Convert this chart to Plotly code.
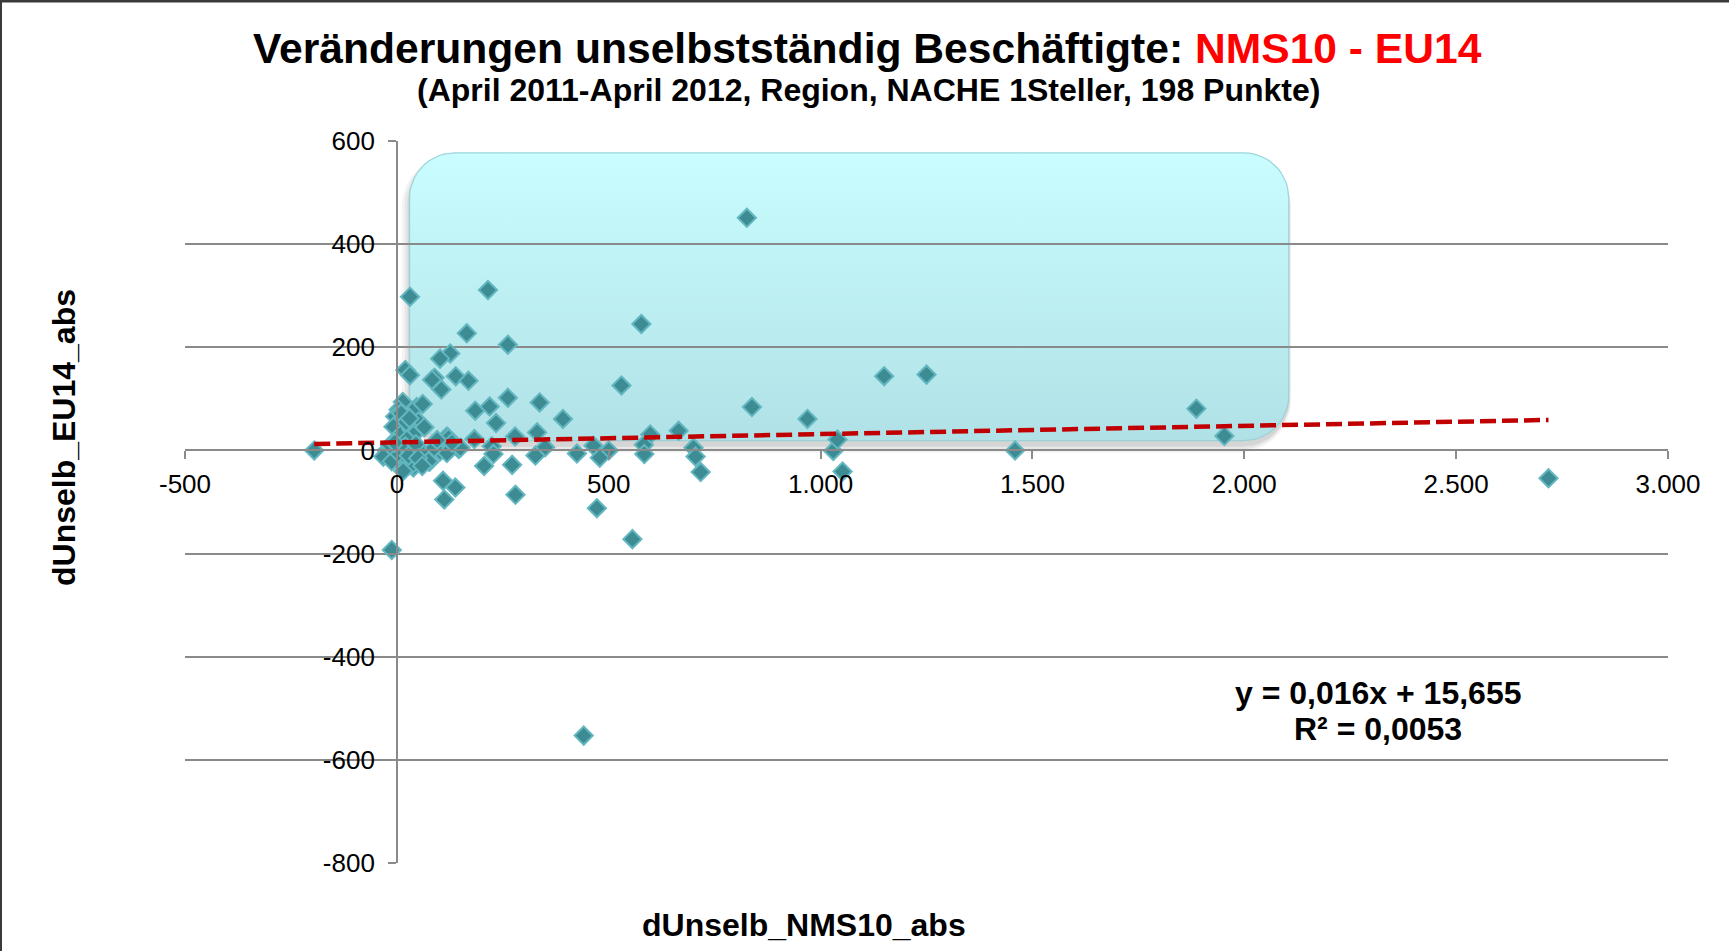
import numpy as np
import plotly.graph_objects as go

# ---------------- data ----------------
NMS10_ABS = [
    31, 215, 165, 262, 577, 826, 126, 102, 20, 31, 89, 83, 139, 169, 105,
    530, 262, 337, 185, 219, 47, 61, 14, 4, -4, 10, 392, 234, 51, -8, 8,
    35, 39, 24, 118, 122, 183, 279, 331, 598, 665, 583, 350, 146, 224, 79,
    59, 102, 118, 327, 425, 464, 500, 479, 584, 700, 705, 717, 228, 206,
    272, 77, 39, 12, 35, -24, -32, -12, 4, 75, 150, 109, 138, 112, 280,
    472, 556, 441, -12, -195, 838, 969, 1150, 1250, 1887, 1953, 1459,
    1030, 1040, 1052, 2718,
    -16, 20, 28, -5, 45, 50, 15, 60, 88, 130, 95, 22, 30, 65,
]
EU14_ABS = [
    298, 311, 227, 205, 245, 451, 188, 178, 156, 146, 141, 137, 144, 135, 118,
    126, 102, 93, 77, 85, 84, 90, 94, 79, 66, 72, 61, 53, 56, 46, 30,
    40, 30, 21, 27, 24, 22, 27, 35, 31, 38, 11, 6, 3, 8, -2,
    -2, -2, -5, -10, -6, 9, 0, -14, -7, 5, -12, -42, -7, -30,
    -28, -22, -33, -27, -28, 0, -12, -21, -5, -21, 5, -59, -72, -95, -86,
    -112, -172, -553, -193, 0, 84, 61, 144, 147, 81, 28, 0,
    -1, 21, -41, -54,
    10, 8, -10, 15, 12, -15, -40, -30, 5, 15, 20, 55, 62, 45,
]

TREND_SLOPE = 0.016
TREND_INTERCEPT = 15.655
EQUATION_TEXT = "y = 0,016x + 15,655"
R2_TEXT = "R² = 0,0053"

X_RANGE = [-500, 3000]
Y_RANGE = [-800, 600]
X_TICK_VALS = [-500, 0, 500, 1000, 1500, 2000, 2500, 3000]
X_TICK_TEXT = ["-500", "0", "500", "1.000", "1.500", "2.000", "2.500", "3.000"]
Y_TICK_VALS = [-800, -600, -400, -200, 0, 200, 400, 600]
Y_TICK_TEXT = ["-800", "-600", "-400", "-200", "0", "200", "400", "600"]

# highlighted area (rounded box behind the points)
HIGHLIGHT_X = [30, 2105]
HIGHLIGHT_Y = [19, 577]

# ---------------- geometry / styling ----------------
W, H = 1729, 951
ML, MR, MT, MB = 185, 61, 141, 88
PW, PH = W - ML - MR, H - MT - MB
PX_PER_X = PW / (X_RANGE[1] - X_RANGE[0])
PX_PER_Y = PH / (Y_RANGE[1] - Y_RANGE[0])
FONT = "Arial, 'Liberation Sans', Helvetica, sans-serif"


def rounded_rect(x0, x1, y0, y1, r_px, n=14):
    rx, ry = r_px / PX_PER_X, r_px / PX_PER_Y
    xs, ys = [], []
    corners = [
        (x1 - rx, y1 - ry, 0.0),          # top-right
        (x0 + rx, y1 - ry, np.pi / 2),    # top-left
        (x0 + rx, y0 + ry, np.pi),        # bottom-left
        (x1 - rx, y0 + ry, 1.5 * np.pi),  # bottom-right
    ]
    for cx, cy, a0 in corners:
        t = np.linspace(a0, a0 + np.pi / 2, n)
        xs.extend(cx + rx * np.cos(t))
        ys.extend(cy + ry * np.sin(t))
    xs.append(xs[0])
    ys.append(ys[0])
    return xs, ys


def px_to_paper_x(px):
    return (px - ML) / PW


def px_to_paper_y(py):
    return (H - MB - py) / PH


fig = go.Figure()

# shadow of the highlight box (subplot 1, below the grid)
for grow, alpha in [(8, 0.05), (5, 0.07), (2, 0.10)]:
    dx, dy = grow / PX_PER_X, grow / PX_PER_Y
    off = 4 / PX_PER_Y
    sx, sy = rounded_rect(HIGHLIGHT_X[0] - dx, HIGHLIGHT_X[1] + dx * 0.3,
                          HIGHLIGHT_Y[0] - dy - off, HIGHLIGHT_Y[1] + dy * 0.3 - off,
                          45 + grow)
    fig.add_trace(go.Scatter(x=sx, y=sy, mode="lines", fill="toself",
                             line=dict(width=0, color="rgba(0,0,0,0)"),
                             fillcolor=f"rgba(60,60,60,{alpha})",
                             hoverinfo="skip", showlegend=False,
                             xaxis="x", yaxis="y"))

hx, hy = rounded_rect(HIGHLIGHT_X[0], HIGHLIGHT_X[1], HIGHLIGHT_Y[0], HIGHLIGHT_Y[1], 45)
fig.add_trace(go.Scatter(
    x=hx, y=hy, mode="lines", fill="toself",
    line=dict(width=1.2, color="rgba(150,208,214,0.9)"),
    fillgradient=dict(type="vertical",
                      colorscale=[[0, "#B0E1E6"], [1, "#C9FDFF"]]),
    hoverinfo="skip", showlegend=False, xaxis="x", yaxis="y"))

# scatter points (subplot 2, drawn above the grid)
fig.add_trace(go.Scatter(
    x=NMS10_ABS, y=EU14_ABS, mode="markers",
    marker=dict(symbol="diamond", size=14, color="#3E8C93",
                line=dict(color="#63B7C0", width=2)),
    showlegend=False, xaxis="x2", yaxis="y2"))

# linear trend line
tx = np.array([min(NMS10_ABS), max(NMS10_ABS)], dtype=float)
ty = TREND_SLOPE * tx + TREND_INTERCEPT
fig.add_trace(go.Scatter(
    x=tx, y=ty, mode="lines",
    line=dict(color="#C00000", width=4.5, dash="16px,6px"),
    showlegend=False, hoverinfo="skip", xaxis="x2", yaxis="y2"))

GRID = "#8A8A8A"
fig.update_layout(
    width=W, height=H, autosize=False,
    margin=dict(l=ML, r=MR, t=MT, b=MB, pad=0),
    paper_bgcolor="white", plot_bgcolor="rgba(0,0,0,0)",
    font=dict(family=FONT, color="black"),
    xaxis=dict(domain=[0, 1], range=X_RANGE, visible=False, fixedrange=True),
    yaxis=dict(domain=[0, 1], range=Y_RANGE, visible=False, fixedrange=True),
    xaxis2=dict(domain=[0, 1], range=X_RANGE, anchor="free",
                position=(0 - Y_RANGE[0]) / (Y_RANGE[1] - Y_RANGE[0]),
                tickmode="array", tickvals=X_TICK_VALS, ticktext=X_TICK_TEXT,
                showgrid=False, zeroline=False,
                showline=True, linecolor=GRID, linewidth=1.5,
                ticks="outside", ticklen=8, tickwidth=1.5, tickcolor=GRID,
                ticklabelstandoff=3,
                tickfont=dict(size=26, family=FONT, color="black")),
    yaxis2=dict(domain=[0, 1], range=Y_RANGE, anchor="free",
                position=(0 - X_RANGE[0]) / (X_RANGE[1] - X_RANGE[0]),
                tickmode="array", tickvals=Y_TICK_VALS, ticktext=Y_TICK_TEXT,
                showgrid=True, gridcolor=GRID, gridwidth=1.5, zeroline=False,
                showline=True, linecolor=GRID, linewidth=1.5,
                ticks="outside", ticklen=8, tickwidth=1.5, tickcolor=GRID,
                ticklabelstandoff=8,
                tickfont=dict(size=26, family=FONT, color="black")),
)

ann = [
    dict(text="<b>Veränderungen unselbstständig Beschäftigte: "
              "<span style='color:#FF0000'>NMS10 - EU14</span></b>",
         x=px_to_paper_x(867), y=px_to_paper_y(48), font=dict(size=42.6)),
    dict(text="<b>(April 2011-April 2012, Region, NACHE 1Steller, 198 Punkte)</b>",
         x=px_to_paper_x(868), y=px_to_paper_y(90), font=dict(size=32)),
    dict(text="<b>dUnselb_NMS10_abs</b>",
         x=px_to_paper_x(804), y=px_to_paper_y(925), font=dict(size=32)),
    dict(text="<b>dUnselb_EU14_abs</b>", textangle=-90,
         x=px_to_paper_x(64), y=px_to_paper_y(438), font=dict(size=32)),
    dict(text="<b>" + EQUATION_TEXT + "</b>",
         x=px_to_paper_x(1378), y=px_to_paper_y(693), font=dict(size=32)),
    dict(text="<b>" + R2_TEXT + "</b>",
         x=px_to_paper_x(1378), y=px_to_paper_y(729), font=dict(size=32)),
]
for a in ann:
    a.update(xref="paper", yref="paper", xanchor="center", yanchor="middle",
             showarrow=False)
    a["font"].update(family=FONT, color="black")
fig.update_layout(annotations=ann)

# outer frame (top and left edges as in the reference)
fig.add_shape(type="line", xref="paper", yref="paper",
              x0=px_to_paper_x(0), x1=px_to_paper_x(W), y0=px_to_paper_y(1), y1=px_to_paper_y(1),
              line=dict(color="#3A3A3A", width=3))
fig.add_shape(type="line", xref="paper", yref="paper",
              x0=px_to_paper_x(1), x1=px_to_paper_x(1), y0=px_to_paper_y(0), y1=px_to_paper_y(H),
              line=dict(color="#3A3A3A", width=2))

fig.write_html("out.html", config={"displayModeBar": False},
               post_script="document.body.style.margin='0px';"
                           "document.body.style.overflow='hidden';")
